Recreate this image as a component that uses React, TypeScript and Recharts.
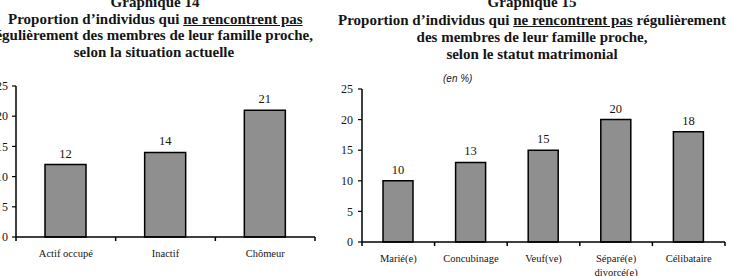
import React from 'react';
import { BarChart, Bar, XAxis, YAxis, LabelList } from 'recharts';

// Graphique 14 : selon la situation actuelle
const situationLabels = ['Actif occupé', 'Inactif', 'Chômeur'];
const situationValues = [12, 14, 21];

// Graphique 15 : selon le statut matrimonial
const statutLabels = ['Marié(e)', 'Concubinage', 'Veuf(ve)', 'Séparé(e)\ndivorcé(e)', 'Célibataire'];
const statutValues = [10, 13, 15, 20, 18];

const yTicks = [0, 5, 10, 15, 20, 25];

const situationData = situationLabels.map((name, i) => ({ name, value: situationValues[i] }));
const statutData = statutLabels.map((name, i) => ({ name, value: statutValues[i] }));

const SERIF = '"Liberation Serif", "Times New Roman", serif';
const INK = '#151515';
const BAR_FILL = '#8f8f8f';

// category label + tick marks on the band boundaries
const CatTick = (props: any) => {
  const { x, y, payload, index } = props;
  const half = payload?.offset ?? 0;
  const lines = String(payload.value).split('\n');
  return (
    <g>
      {index === 0 && half > 0 && (
        <line x1={x - half} x2={x - half} y1={y} y2={y + 4} stroke="#000" strokeWidth={1.5} />
      )}
      {half > 0 && <line x1={x + half} x2={x + half} y1={y} y2={y + 4} stroke="#000" strokeWidth={1.5} />}
      <text x={x} y={y + 20} textAnchor="middle" style={{ fontFamily: SERIF, fontSize: 10.5, fill: INK }}>
        {lines.map((l, i) => (
          <tspan key={i} x={x} dy={i === 0 ? 0 : 14}>{l}</tspan>
        ))}
      </text>
    </g>
  );
};

// one bold title line; anchor: 'c' centre, 'l' left edge, 'r' right edge; base = text baseline
const titleLine = (text: React.ReactNode, ax: number, base: number, anchor: string, key: string) => {
  const pos: any =
    anchor === 'l' ? { left: ax, textAlign: 'left' } :
    anchor === 'r' ? { left: ax - 600, width: 600, textAlign: 'right' } :
    { left: ax - 300, width: 600, textAlign: 'center' };
  return (
    <div
      key={key}
      style={{
        position: 'absolute', top: base - 14, ...pos,
        fontFamily: SERIF, fontWeight: 'bold', fontSize: 15, lineHeight: '18px', color: INK, whiteSpace: 'nowrap',
      }}
    >
      {text}
    </div>
  );
};

const SmallBars = ({ data, width, left, margin, barSize }: any) => (
  <div style={{ position: 'absolute', left, top: 0 }}>
    <BarChart width={width} height={276} data={data} margin={margin}>
      <XAxis
        dataKey="name"
        interval={0}
        tickSize={0}
        tickMargin={0}
        height={30}
        tick={<CatTick />}
        axisLine={{ stroke: '#000', strokeWidth: 1.5 }}
      />
      <YAxis
        domain={[0, 25]}
        ticks={yTicks}
        interval={0}
        width={margin.yw}
        tickSize={4}
        tickMargin={margin.tm}
        tickLine={{ stroke: '#000', strokeWidth: 1.2 }}
        axisLine={{ stroke: '#000', strokeWidth: 1.5 }}
        tick={{ fontFamily: SERIF, fontSize: 12, fill: INK, style: { fontFamily: SERIF } }}
      />
      <Bar dataKey="value" fill={BAR_FILL} stroke="#000" strokeWidth={1.5} barSize={barSize} isAnimationActive={false}>
        <LabelList dataKey="value" position="top" offset={7} style={{ fontFamily: SERIF, fontSize: 12.5, fill: INK }} />
      </Bar>
    </BarChart>
  </div>
);

const u = (t: string) => <span style={{ textDecoration: 'underline' }}>{t}</span>;

export default function App() {
  return (
    <div style={{ position: 'relative', width: 731, height: 276, background: '#fff', overflow: 'hidden' }}>
      <style>{'body{margin:0;overflow:hidden}'}</style>

      {titleLine('Graphique 14', 155, 7, 'c', 'l0')}
      {titleLine(<>Proportion d’individus qui {u('ne rencontrent pas')}</>, 8, 24, 'l', 'l1')}
      {titleLine('régulièrement des membres de leur famille proche,', 313, 40, 'r', 'l2')}
      {titleLine('selon la situation actuelle', 154, 57, 'c', 'l3')}

      {titleLine('Graphique 15', 532, 7, 'c', 'r0')}
      {titleLine(<>Proportion d’individus qui {u('ne rencontrent pas')} régulièrement</>, 338, 25, 'l', 'r1')}
      {titleLine('des membres de leur famille proche,', 532, 42, 'c', 'r2')}
      {titleLine('selon le statut matrimonial', 532, 59, 'c', 'r3')}

      <div
        style={{
          position: 'absolute', left: 443, top: 73, fontFamily: '"Liberation Sans", Arial, sans-serif',
          fontStyle: 'italic', fontSize: 10, color: INK, whiteSpace: 'nowrap',
        }}
      >
        (en %)
      </div>

      <SmallBars
        data={situationData}
        width={330}
        left={0}
        barSize={41}
        margin={{ top: 86, right: 15, bottom: 9, left: 0, yw: 16, tm: 4 }}
      />
      <SmallBars
        data={statutData}
        width={401}
        left={330}
        barSize={30}
        margin={{ top: 89, right: 6, bottom: 4, left: 0, yw: 32, tm: 5 }}
      />
    </div>
  );
}
